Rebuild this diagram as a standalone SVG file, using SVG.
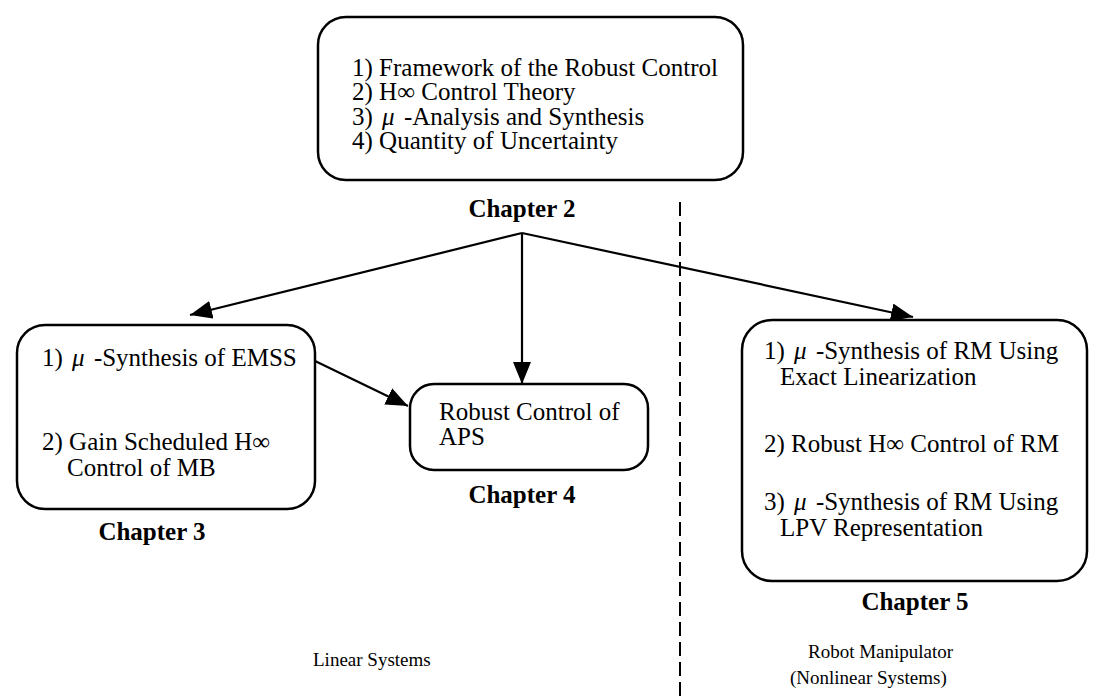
<svg xmlns="http://www.w3.org/2000/svg" width="1096" height="697" viewBox="0 0 1096 697">
  <style>
    .box { fill: #fff; stroke: #000; stroke-width: 2.5; }
    .t { font-family: "Liberation Serif", "Times New Roman", serif; font-size: 25px; fill: #000; }
    .ch { font-family: "Liberation Serif", "Times New Roman", serif; font-size: 25px; font-weight: bold; fill: #000; text-anchor: middle; }
    .lbl { font-family: "Liberation Serif", "Times New Roman", serif; font-size: 19px; fill: #000; }
    .mu { font-style: italic; }
    .edge { stroke: #000; stroke-width: 2.2; fill: none; marker-end: url(#arrow); }
    .divider { stroke: #000; stroke-width: 2; stroke-dasharray: 14 6; fill: none; }
  </style>
  <defs>
    <marker id="arrow" markerUnits="userSpaceOnUse" markerWidth="24" markerHeight="20" refX="22" refY="9" orient="auto">
      <path d="M0,0 L22,9 L0,18 Z" fill="#000"/>
    </marker>
  </defs>

  <rect width="1096" height="697" fill="#fff"/>

  <!-- split between linear and nonlinear parts -->
  <line class="divider" x1="680" y1="202" x2="680" y2="697"/>

  <g id="connectors">
    <path class="edge" d="M522,233 L190,315"/>
    <path class="edge" d="M522,233 L522,384"/>
    <path class="edge" d="M522,233 L913,317"/>
    <path class="edge" d="M313,360 L408,406"/>
    <path class="edge" d="M167,372 L167,428"/>
  </g>

  <g id="chapter2">
    <rect class="box" x="318" y="17" width="425" height="163" rx="28"/>
    <text class="t" x="352" y="76">1) Framework of the Robust Control</text>
    <text class="t" x="352" y="100">2) H∞ Control Theory</text>
    <text class="t" x="352" y="125">3) <tspan class="mu" dx="3">μ</tspan><tspan dx="3"> -Analysis and Synthesis</tspan></text>
    <text class="t" x="352" y="149">4) Quantity of Uncertainty</text>
    <text class="ch" x="522" y="217">Chapter 2</text>
  </g>

  <g id="chapter3">
    <rect class="box" x="17" y="325" width="298" height="184" rx="28"/>
    <text class="t" x="42" y="366">1) <tspan class="mu" dx="3">μ</tspan><tspan dx="3"> -Synthesis of EMSS</tspan></text>
    <text class="t" x="42" y="450">2) Gain Scheduled H∞</text>
    <text class="t" x="67" y="476">Control of MB</text>
    <text class="ch" x="152" y="540">Chapter 3</text>
  </g>

  <g id="chapter4">
    <rect class="box" x="410" y="384" width="238" height="86" rx="24"/>
    <text class="t" x="439" y="420">Robust Control of</text>
    <text class="t" x="439" y="445">APS</text>
    <text class="ch" x="522" y="503">Chapter 4</text>
  </g>

  <g id="chapter5">
    <rect class="box" x="742" y="320" width="345" height="261" rx="30"/>
    <text class="t" x="764" y="359">1) <tspan class="mu" dx="3">μ</tspan><tspan dx="3"> -Synthesis of RM Using</tspan></text>
    <text class="t" x="780" y="385">Exact Linearization</text>
    <text class="t" x="764" y="452">2) Robust H∞ Control of RM</text>
    <text class="t" x="764" y="510">3) <tspan class="mu" dx="3">μ</tspan><tspan dx="3"> -Synthesis of RM Using</tspan></text>
    <text class="t" x="780" y="536">LPV Representation</text>
    <text class="ch" x="915" y="610">Chapter 5</text>
  </g>

  <g id="labels">
    <text class="lbl" x="313" y="666">Linear Systems</text>
    <text class="lbl" x="808" y="658">Robot Manipulator</text>
    <text class="lbl" x="790" y="684">(Nonlinear Systems)</text>
  </g>
</svg>
